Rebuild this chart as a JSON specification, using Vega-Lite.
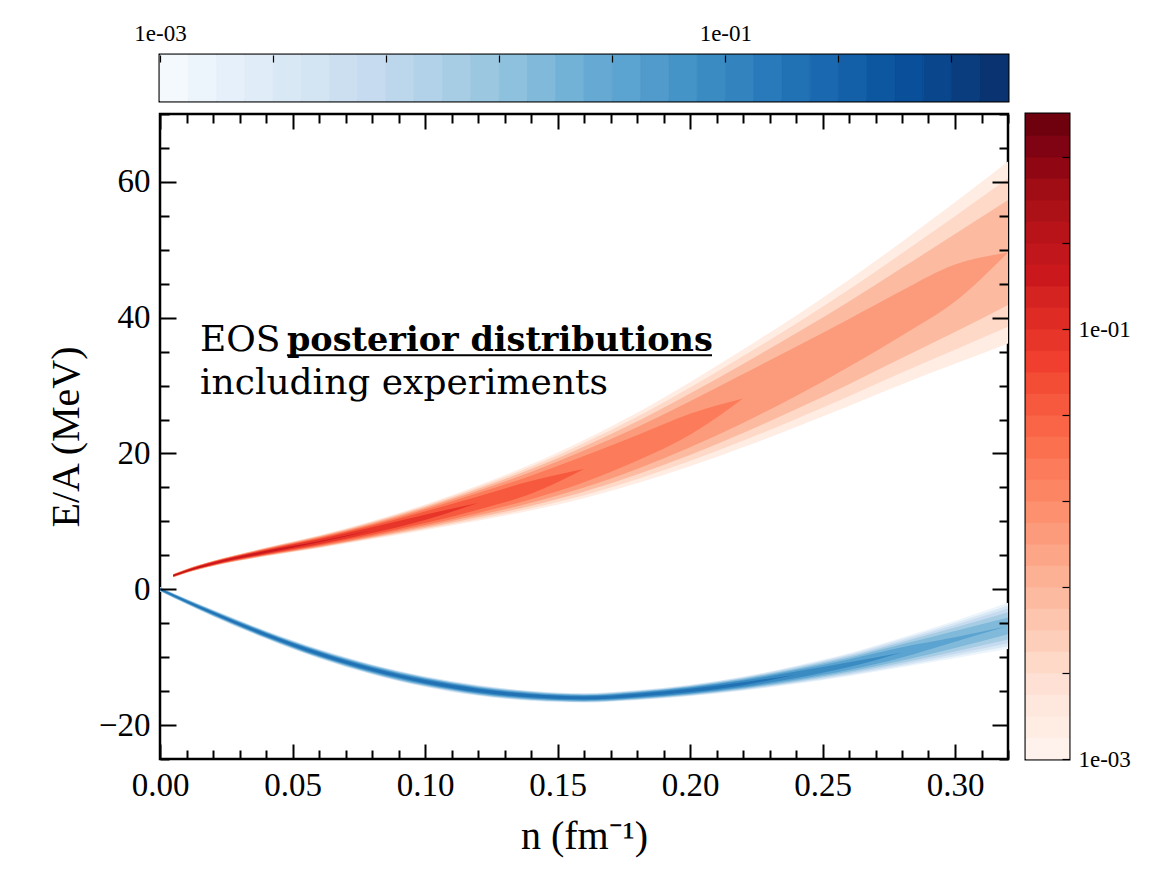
{
"$schema": "https://vega.github.io/schema/vega-lite/v6.json",
"padding": {"left": 45, "top": 20, "right": 5, "bottom": 5},
"background": "white",
"config": {"view": {"stroke": null}},
"columns": 2,
"spacing": {"row": 13, "column": 18},
"bounds": "flush",
"resolve": {"scale": {"color": "independent", "stroke": "independent"}},
"datasets": {
"cb": [{"e":-3.0,"e2":-2.9,"m":-2.95},{"e":-2.9,"e2":-2.8,"m":-2.85},{"e":-2.8,"e2":-2.7,"m":-2.75},{"e":-2.7,"e2":-2.6,"m":-2.65},{"e":-2.6,"e2":-2.5,"m":-2.55},{"e":-2.5,"e2":-2.4,"m":-2.45},{"e":-2.4,"e2":-2.3,"m":-2.35},{"e":-2.3,"e2":-2.2,"m":-2.25},{"e":-2.2,"e2":-2.1,"m":-2.15},{"e":-2.1,"e2":-2.0,"m":-2.05},{"e":-2.0,"e2":-1.9,"m":-1.95},{"e":-1.9,"e2":-1.8,"m":-1.85},{"e":-1.8,"e2":-1.7,"m":-1.75},{"e":-1.7,"e2":-1.6,"m":-1.65},{"e":-1.6,"e2":-1.5,"m":-1.55},{"e":-1.5,"e2":-1.4,"m":-1.45},{"e":-1.4,"e2":-1.3,"m":-1.35},{"e":-1.3,"e2":-1.2,"m":-1.25},{"e":-1.2,"e2":-1.1,"m":-1.15},{"e":-1.1,"e2":-1.0,"m":-1.05},{"e":-1.0,"e2":-0.9,"m":-0.95},{"e":-0.9,"e2":-0.8,"m":-0.85},{"e":-0.8,"e2":-0.7,"m":-0.75},{"e":-0.7,"e2":-0.6,"m":-0.65},{"e":-0.6,"e2":-0.5,"m":-0.55},{"e":-0.5,"e2":-0.4,"m":-0.45},{"e":-0.4,"e2":-0.3,"m":-0.35},{"e":-0.3,"e2":-0.2,"m":-0.25},{"e":-0.2,"e2":-0.1,"m":-0.15},{"e":-0.1,"e2":0.0,"m":-0.05}],
"blue": [
{"lev":-2.85,"n":0,"lo":-0.3,"hi":0.3},{"lev":-2.85,"n":0.01,"lo":-2.2,"hi":-1.4},{"lev":-2.85,"n":0.02,"lo":-4.0,"hi":-3.0},{"lev":-2.85,"n":0.04,"lo":-7.3,"hi":-6.1},{"lev":-2.85,"n":0.06,"lo":-10.2,"hi":-8.8},{"lev":-2.85,"n":0.08,"lo":-12.55,"hi":-11.05},{"lev":-2.85,"n":0.1,"lo":-14.4,"hi":-12.8},{"lev":-2.85,"n":0.12,"lo":-15.7,"hi":-14.1},{"lev":-2.85,"n":0.14,"lo":-16.45,"hi":-14.95},{"lev":-2.85,"n":0.16,"lo":-16.7,"hi":-15.3},{"lev":-2.85,"n":0.18,"lo":-16.35,"hi":-14.85},{"lev":-2.85,"n":0.2,"lo":-15.75,"hi":-14.05},{"lev":-2.85,"n":0.22,"lo":-14.95,"hi":-12.85},{"lev":-2.85,"n":0.24,"lo":-13.95,"hi":-11.25},{"lev":-2.85,"n":0.26,"lo":-12.8,"hi":-9.4},{"lev":-2.85,"n":0.28,"lo":-11.5,"hi":-7.1},{"lev":-2.85,"n":0.3,"lo":-10.15,"hi":-4.65},{"lev":-2.85,"n":0.32,"lo":-8.8,"hi":-2.0},
{"lev":-2.55,"n":0,"lo":-0.28,"hi":0.28},{"lev":-2.55,"n":0.01,"lo":-2.17,"hi":-1.43},{"lev":-2.55,"n":0.02,"lo":-3.97,"hi":-3.03},{"lev":-2.55,"n":0.04,"lo":-7.26,"hi":-6.14},{"lev":-2.55,"n":0.06,"lo":-10.15,"hi":-8.85},{"lev":-2.55,"n":0.08,"lo":-12.5,"hi":-11.1},{"lev":-2.55,"n":0.1,"lo":-14.35,"hi":-12.85},{"lev":-2.55,"n":0.12,"lo":-15.65,"hi":-14.15},{"lev":-2.55,"n":0.14,"lo":-16.4,"hi":-15.0},{"lev":-2.55,"n":0.16,"lo":-16.65,"hi":-15.35},{"lev":-2.55,"n":0.18,"lo":-16.3,"hi":-14.9},{"lev":-2.55,"n":0.2,"lo":-15.69,"hi":-14.11},{"lev":-2.55,"n":0.22,"lo":-14.88,"hi":-12.92},{"lev":-2.55,"n":0.24,"lo":-13.85,"hi":-11.35},{"lev":-2.55,"n":0.26,"lo":-12.66,"hi":-9.54},{"lev":-2.55,"n":0.28,"lo":-11.3,"hi":-7.3},{"lev":-2.55,"n":0.3,"lo":-9.86,"hi":-4.94},{"lev":-2.55,"n":0.32,"lo":-8.41,"hi":-2.39},
{"lev":-2.25,"n":0,"lo":-0.26,"hi":0.26},{"lev":-2.25,"n":0.01,"lo":-2.14,"hi":-1.46},{"lev":-2.25,"n":0.02,"lo":-3.93,"hi":-3.07},{"lev":-2.25,"n":0.04,"lo":-7.22,"hi":-6.18},{"lev":-2.25,"n":0.06,"lo":-10.1,"hi":-8.9},{"lev":-2.25,"n":0.08,"lo":-12.45,"hi":-11.15},{"lev":-2.25,"n":0.1,"lo":-14.29,"hi":-12.91},{"lev":-2.25,"n":0.12,"lo":-15.59,"hi":-14.21},{"lev":-2.25,"n":0.14,"lo":-16.35,"hi":-15.05},{"lev":-2.25,"n":0.16,"lo":-16.6,"hi":-15.4},{"lev":-2.25,"n":0.18,"lo":-16.25,"hi":-14.95},{"lev":-2.25,"n":0.2,"lo":-15.63,"hi":-14.17},{"lev":-2.25,"n":0.22,"lo":-14.8,"hi":-13.0},{"lev":-2.25,"n":0.24,"lo":-13.74,"hi":-11.46},{"lev":-2.25,"n":0.26,"lo":-12.5,"hi":-9.7},{"lev":-2.25,"n":0.28,"lo":-11.07,"hi":-7.53},{"lev":-2.25,"n":0.3,"lo":-9.54,"hi":-5.26},{"lev":-2.25,"n":0.32,"lo":-7.96,"hi":-2.84},
{"lev":-1.95,"n":0,"lo":-0.23,"hi":0.23},{"lev":-1.95,"n":0.01,"lo":-2.11,"hi":-1.49},{"lev":-1.95,"n":0.02,"lo":-3.89,"hi":-3.11},{"lev":-1.95,"n":0.04,"lo":-7.17,"hi":-6.23},{"lev":-1.95,"n":0.06,"lo":-10.05,"hi":-8.95},{"lev":-1.95,"n":0.08,"lo":-12.39,"hi":-11.21},{"lev":-1.95,"n":0.1,"lo":-14.22,"hi":-12.98},{"lev":-1.95,"n":0.12,"lo":-15.52,"hi":-14.28},{"lev":-1.95,"n":0.14,"lo":-16.29,"hi":-15.11},{"lev":-1.95,"n":0.16,"lo":-16.55,"hi":-15.45},{"lev":-1.95,"n":0.18,"lo":-16.19,"hi":-15.01},{"lev":-1.95,"n":0.2,"lo":-15.56,"hi":-14.24},{"lev":-1.95,"n":0.22,"lo":-14.71,"hi":-13.09},{"lev":-1.95,"n":0.24,"lo":-13.61,"hi":-11.59},{"lev":-1.95,"n":0.26,"lo":-12.33,"hi":-9.87},{"lev":-1.95,"n":0.28,"lo":-10.81,"hi":-7.79},{"lev":-1.95,"n":0.3,"lo":-9.16,"hi":-5.64},{"lev":-1.95,"n":0.32,"lo":-7.41,"hi":-3.39},
{"lev":-1.65,"n":0,"lo":-0.21,"hi":0.21},{"lev":-1.65,"n":0.01,"lo":-2.08,"hi":-1.52},{"lev":-1.65,"n":0.02,"lo":-3.85,"hi":-3.15},{"lev":-1.65,"n":0.04,"lo":-7.12,"hi":-6.28},{"lev":-1.65,"n":0.06,"lo":-9.98,"hi":-9.02},{"lev":-1.65,"n":0.08,"lo":-12.32,"hi":-11.28},{"lev":-1.65,"n":0.1,"lo":-14.15,"hi":-13.05},{"lev":-1.65,"n":0.12,"lo":-15.45,"hi":-14.35},{"lev":-1.65,"n":0.14,"lo":-16.22,"hi":-15.18},{"lev":-1.65,"n":0.16,"lo":-16.48,"hi":-15.52},{"lev":-1.65,"n":0.18,"lo":-16.12,"hi":-15.08},{"lev":-1.65,"n":0.2,"lo":-15.49,"hi":-14.31},{"lev":-1.65,"n":0.22,"lo":-14.61,"hi":-13.19},{"lev":-1.65,"n":0.24,"lo":-13.47,"hi":-11.73},{"lev":-1.65,"n":0.26,"lo":-12.12,"hi":-10.08},{"lev":-1.65,"n":0.28,"lo":-10.49,"hi":-8.11},{"lev":-1.65,"n":0.3,"lo":-8.66,"hi":-6.14},{"lev":-1.65,"n":0.32,"lo":-6.63,"hi":-4.17},
{"lev":-1.35,"n":0,"lo":-0.18,"hi":0.18},{"lev":-1.35,"n":0.01,"lo":-2.04,"hi":-1.56},{"lev":-1.35,"n":0.02,"lo":-3.8,"hi":-3.2},{"lev":-1.35,"n":0.04,"lo":-7.05,"hi":-6.35},{"lev":-1.35,"n":0.06,"lo":-9.91,"hi":-9.09},{"lev":-1.35,"n":0.08,"lo":-12.24,"hi":-11.36},{"lev":-1.35,"n":0.1,"lo":-14.07,"hi":-13.13},{"lev":-1.35,"n":0.12,"lo":-15.37,"hi":-14.43},{"lev":-1.35,"n":0.14,"lo":-16.14,"hi":-15.26},{"lev":-1.35,"n":0.16,"lo":-16.41,"hi":-15.59},{"lev":-1.35,"n":0.18,"lo":-16.04,"hi":-15.16},{"lev":-1.35,"n":0.2,"lo":-15.4,"hi":-14.4},{"lev":-1.35,"n":0.22,"lo":-14.49,"hi":-13.31},{"lev":-1.35,"n":0.24,"lo":-13.3,"hi":-11.9},{"lev":-1.35,"n":0.26,"lo":-11.87,"hi":-10.33},{"lev":-1.35,"n":0.28,"lo":-10.05,"hi":-8.55},{"lev":-1.35,"n":0.3,"lo":-7.72,"hi":-7.08},{"lev":-1.35,"n":0.32,"lo":-5.4,"hi":-5.4},
{"lev":-1.05,"n":0,"lo":-0.14,"hi":0.14},{"lev":-1.05,"n":0.01,"lo":-1.99,"hi":-1.61},{"lev":-1.05,"n":0.02,"lo":-3.73,"hi":-3.27},{"lev":-1.05,"n":0.04,"lo":-6.98,"hi":-6.42},{"lev":-1.05,"n":0.06,"lo":-9.83,"hi":-9.17},{"lev":-1.05,"n":0.08,"lo":-12.15,"hi":-11.45},{"lev":-1.05,"n":0.1,"lo":-13.97,"hi":-13.23},{"lev":-1.05,"n":0.12,"lo":-15.27,"hi":-14.53},{"lev":-1.05,"n":0.14,"lo":-16.05,"hi":-15.35},{"lev":-1.05,"n":0.16,"lo":-16.33,"hi":-15.67},{"lev":-1.05,"n":0.18,"lo":-15.95,"hi":-15.25},{"lev":-1.05,"n":0.2,"lo":-15.3,"hi":-14.5},{"lev":-1.05,"n":0.22,"lo":-14.35,"hi":-13.45},{"lev":-1.05,"n":0.24,"lo":-13.07,"hi":-12.13},{"lev":-1.05,"n":0.26,"lo":-11.45,"hi":-10.75},{"lev":-1.05,"n":0.28,"lo":-9.3,"hi":-9.3},
{"lev":-0.75,"n":0,"lo":-0.09,"hi":0.09},{"lev":-0.75,"n":0.01,"lo":-1.92,"hi":-1.68},{"lev":-0.75,"n":0.02,"lo":-3.65,"hi":-3.35},{"lev":-0.75,"n":0.04,"lo":-6.88,"hi":-6.52},{"lev":-0.75,"n":0.06,"lo":-9.71,"hi":-9.29},{"lev":-0.75,"n":0.08,"lo":-12.02,"hi":-11.58},{"lev":-0.75,"n":0.1,"lo":-13.84,"hi":-13.36},{"lev":-0.75,"n":0.12,"lo":-15.14,"hi":-14.66},{"lev":-0.75,"n":0.14,"lo":-15.92,"hi":-15.48},{"lev":-0.75,"n":0.16,"lo":-16.21,"hi":-15.79},{"lev":-0.75,"n":0.18,"lo":-15.82,"hi":-15.38},{"lev":-0.75,"n":0.2,"lo":-15.15,"hi":-14.65},{"lev":-0.75,"n":0.22,"lo":-14.12,"hi":-13.68},{"lev":-0.75,"n":0.24,"lo":-12.6,"hi":-12.6}
],
"red": [
{"lev":-2.85,"n":0.005,"lo":1.75,"hi":2.25},{"lev":-2.85,"n":0.01,"lo":2.4,"hi":3.0},{"lev":-2.85,"n":0.02,"lo":3.4,"hi":4.2},{"lev":-2.85,"n":0.04,"lo":4.85,"hi":6.15},{"lev":-2.85,"n":0.06,"lo":6.05,"hi":7.95},{"lev":-2.85,"n":0.08,"lo":7.35,"hi":10.05},{"lev":-2.85,"n":0.1,"lo":8.7,"hi":12.5},{"lev":-2.85,"n":0.12,"lo":10.1,"hi":15.3},{"lev":-2.85,"n":0.14,"lo":11.6,"hi":18.4},{"lev":-2.85,"n":0.16,"lo":13.4,"hi":22.0},{"lev":-2.85,"n":0.18,"lo":15.6,"hi":26.0},{"lev":-2.85,"n":0.2,"lo":18.1,"hi":30.5},{"lev":-2.85,"n":0.22,"lo":20.9,"hi":35.3},{"lev":-2.85,"n":0.24,"lo":23.9,"hi":40.3},{"lev":-2.85,"n":0.26,"lo":27.0,"hi":45.6},{"lev":-2.85,"n":0.28,"lo":30.2,"hi":51.2},{"lev":-2.85,"n":0.3,"lo":33.2,"hi":57.0},{"lev":-2.85,"n":0.32,"lo":36.2,"hi":63.0},
{"lev":-2.55,"n":0.005,"lo":1.77,"hi":2.23},{"lev":-2.55,"n":0.01,"lo":2.42,"hi":2.98},{"lev":-2.55,"n":0.02,"lo":3.43,"hi":4.17},{"lev":-2.55,"n":0.04,"lo":4.89,"hi":6.11},{"lev":-2.55,"n":0.06,"lo":6.12,"hi":7.88},{"lev":-2.55,"n":0.08,"lo":7.46,"hi":9.94},{"lev":-2.55,"n":0.1,"lo":8.86,"hi":12.34},{"lev":-2.55,"n":0.12,"lo":10.33,"hi":15.07},{"lev":-2.55,"n":0.14,"lo":11.93,"hi":18.07},{"lev":-2.55,"n":0.16,"lo":13.85,"hi":21.55},{"lev":-2.55,"n":0.18,"lo":16.2,"hi":25.4},{"lev":-2.55,"n":0.2,"lo":18.88,"hi":29.72},{"lev":-2.55,"n":0.22,"lo":21.86,"hi":34.34},{"lev":-2.55,"n":0.24,"lo":25.08,"hi":39.12},{"lev":-2.55,"n":0.26,"lo":28.44,"hi":44.16},{"lev":-2.55,"n":0.28,"lo":31.91,"hi":49.49},{"lev":-2.55,"n":0.3,"lo":35.26,"hi":54.94},{"lev":-2.55,"n":0.32,"lo":38.66,"hi":60.54},
{"lev":-2.25,"n":0.005,"lo":1.78,"hi":2.22},{"lev":-2.25,"n":0.01,"lo":2.44,"hi":2.96},{"lev":-2.25,"n":0.02,"lo":3.45,"hi":4.15},{"lev":-2.25,"n":0.04,"lo":4.94,"hi":6.06},{"lev":-2.25,"n":0.06,"lo":6.2,"hi":7.8},{"lev":-2.25,"n":0.08,"lo":7.57,"hi":9.83},{"lev":-2.25,"n":0.1,"lo":9.03,"hi":12.17},{"lev":-2.25,"n":0.12,"lo":10.59,"hi":14.81},{"lev":-2.25,"n":0.14,"lo":12.3,"hi":17.7},{"lev":-2.25,"n":0.16,"lo":14.37,"hi":21.03},{"lev":-2.25,"n":0.18,"lo":16.89,"hi":24.71},{"lev":-2.25,"n":0.2,"lo":19.78,"hi":28.82},{"lev":-2.25,"n":0.22,"lo":23.01,"hi":33.19},{"lev":-2.25,"n":0.24,"lo":26.51,"hi":37.69},{"lev":-2.25,"n":0.26,"lo":30.21,"hi":42.39},{"lev":-2.25,"n":0.28,"lo":34.06,"hi":47.34},{"lev":-2.25,"n":0.3,"lo":37.88,"hi":52.32},{"lev":-2.25,"n":0.32,"lo":41.87,"hi":57.33},
{"lev":-1.95,"n":0.005,"lo":1.8,"hi":2.2},{"lev":-1.95,"n":0.01,"lo":2.46,"hi":2.94},{"lev":-1.95,"n":0.02,"lo":3.48,"hi":4.12},{"lev":-1.95,"n":0.04,"lo":5.0,"hi":6.0},{"lev":-1.95,"n":0.06,"lo":6.28,"hi":7.72},{"lev":-1.95,"n":0.08,"lo":7.7,"hi":9.7},{"lev":-1.95,"n":0.1,"lo":9.23,"hi":11.97},{"lev":-1.95,"n":0.12,"lo":10.89,"hi":14.51},{"lev":-1.95,"n":0.14,"lo":12.73,"hi":17.27},{"lev":-1.95,"n":0.16,"lo":14.98,"hi":20.42},{"lev":-1.95,"n":0.18,"lo":17.73,"hi":23.87},{"lev":-1.95,"n":0.2,"lo":20.92,"hi":27.68},{"lev":-1.95,"n":0.22,"lo":24.5,"hi":31.7},{"lev":-1.95,"n":0.24,"lo":28.47,"hi":35.73},{"lev":-1.95,"n":0.26,"lo":32.78,"hi":39.82},{"lev":-1.95,"n":0.28,"lo":37.38,"hi":44.02},{"lev":-1.95,"n":0.3,"lo":42.37,"hi":47.83},{"lev":-1.95,"n":0.32,"lo":49.6,"hi":49.6},
{"lev":-1.65,"n":0.005,"lo":1.82,"hi":2.18},{"lev":-1.65,"n":0.01,"lo":2.49,"hi":2.91},{"lev":-1.65,"n":0.02,"lo":3.52,"hi":4.08},{"lev":-1.65,"n":0.04,"lo":5.06,"hi":5.94},{"lev":-1.65,"n":0.06,"lo":6.37,"hi":7.63},{"lev":-1.65,"n":0.08,"lo":7.85,"hi":9.55},{"lev":-1.65,"n":0.1,"lo":9.46,"hi":11.74},{"lev":-1.65,"n":0.12,"lo":11.24,"hi":14.16},{"lev":-1.65,"n":0.14,"lo":13.27,"hi":16.73},{"lev":-1.65,"n":0.16,"lo":15.78,"hi":19.62},{"lev":-1.65,"n":0.18,"lo":18.92,"hi":22.68},{"lev":-1.65,"n":0.2,"lo":22.75,"hi":25.85},{"lev":-1.65,"n":0.22,"lo":28.1,"hi":28.1},
{"lev":-1.35,"n":0.005,"lo":1.84,"hi":2.16},{"lev":-1.35,"n":0.01,"lo":2.51,"hi":2.89},{"lev":-1.35,"n":0.02,"lo":3.56,"hi":4.04},{"lev":-1.35,"n":0.04,"lo":5.12,"hi":5.88},{"lev":-1.35,"n":0.06,"lo":6.49,"hi":7.51},{"lev":-1.35,"n":0.08,"lo":8.02,"hi":9.38},{"lev":-1.35,"n":0.1,"lo":9.75,"hi":11.45},{"lev":-1.35,"n":0.12,"lo":11.72,"hi":13.68},{"lev":-1.35,"n":0.14,"lo":14.07,"hi":15.93},{"lev":-1.35,"n":0.16,"lo":17.7,"hi":17.7},
{"lev":-1.05,"n":0.005,"lo":1.87,"hi":2.13},{"lev":-1.05,"n":0.01,"lo":2.55,"hi":2.85},{"lev":-1.05,"n":0.02,"lo":3.6,"hi":4.0},{"lev":-1.05,"n":0.04,"lo":5.21,"hi":5.79},{"lev":-1.05,"n":0.06,"lo":6.63,"hi":7.37},{"lev":-1.05,"n":0.08,"lo":8.27,"hi":9.13},{"lev":-1.05,"n":0.1,"lo":10.21,"hi":10.99},{"lev":-1.05,"n":0.12,"lo":12.7,"hi":12.7},
{"lev":-0.75,"n":0.005,"lo":1.9,"hi":2.1},{"lev":-0.75,"n":0.01,"lo":2.59,"hi":2.81},{"lev":-0.75,"n":0.02,"lo":3.66,"hi":3.94},{"lev":-0.75,"n":0.04,"lo":5.33,"hi":5.67},{"lev":-0.75,"n":0.06,"lo":6.91,"hi":7.09},{"lev":-0.75,"n":0.08,"lo":8.7,"hi":8.7},
{"lev":-0.45,"n":0.005,"lo":1.95,"hi":2.05},{"lev":-0.45,"n":0.01,"lo":2.66,"hi":2.74},{"lev":-0.45,"n":0.02,"lo":3.8,"hi":3.8}
]
},
"concat": [
{
"width": 848, "height": 46,
"view": {"stroke": "black", "strokeWidth": 3},
"data": {"name": "cb"},
"mark": {"type": "rect", "strokeWidth": 0.8},
"encoding": {
"x": {"field": "e", "type": "quantitative", "scale": {"domain": [-3, 0], "nice": false, "zero": false},
"axis": {"orient": "top", "values": [-3, -2.6, -2.2, -1.8, -1.4, -1, -0.6, -0.2], "domain": false, "grid": false, "zindex": 1, "tickSize": -7, "tickWidth": 1.2, "tickColor": "black", "labelExpr": "abs(datum.value + 3) < 0.001 ? '1e-03' : (abs(datum.value + 1) < 0.001 ? '1e-01' : '')", "labelFont": "Liberation Serif", "labelFontSize": 23, "labelColor": "black", "labelPadding": 17, "labelFlush": false, "labelOverlap": false, "title": null}},
"x2": {"field": "e2"},
"color": {"field": "m", "type": "quantitative", "scale": {"domain": [-3, -2.625, -2.25, -1.875, -1.5, -1.125, -0.75, -0.375, 0], "range": ["#f7fbff", "#deebf7", "#c6dbef", "#9ecae1", "#6baed6", "#4292c6", "#2171b5", "#08519c", "#08306b"]}, "legend": null},
"stroke": {"field": "m", "type": "quantitative", "scale": {"domain": [-3, -2.625, -2.25, -1.875, -1.5, -1.125, -0.75, -0.375, 0], "range": ["#f7fbff", "#deebf7", "#c6dbef", "#9ecae1", "#6baed6", "#4292c6", "#2171b5", "#08519c", "#08306b"]}, "legend": null}
}
},
{
"width": 43, "height": 46,
"data": {"values": [{"a": 1}]},
"mark": {"type": "point", "opacity": 0},
"encoding": {}
},
{
"width": 848, "height": 645,
"view": {"stroke": "black", "strokeWidth": 2.5},
"resolve": {"scale": {"color": "independent"}, "axis": {"x": "independent", "y": "independent"}},
"layer": [
{
"data": {"name": "blue"},
"mark": {"type": "area", "clip": true, "interpolate": "monotone"},
"encoding": {
"x": {"field": "n", "type": "quantitative", "scale": {"domain": [0, 0.32], "nice": false, "zero": false},
"axis": {"orient": "bottom", "values": [0,0.01,0.02,0.03,0.04,0.05,0.06,0.07,0.08,0.09,0.1,0.11,0.12,0.13,0.14,0.15,0.16,0.17,0.18,0.19,0.2,0.21,0.22,0.23,0.24,0.25,0.26,0.27,0.28,0.29,0.3,0.31,0.32], "domain": false, "grid": false, "zindex": 1, "tickColor": "black", "tickWidth": 2, "tickSize": {"condition": {"test": "round(datum.value*100) % 5 == 0", "value": -15}, "value": -9}, "labelExpr": "round(datum.value*100) % 5 == 0 ? format(datum.value, '.2f') : ''", "labelFont": "Liberation Serif", "labelFontSize": 33, "labelColor": "black", "labelPadding": 25, "labelFlush": false, "labelOverlap": false, "title": "n (fm⁻¹)", "titleFont": "Liberation Serif", "titleFontSize": 40, "titleFontWeight": "normal", "titleColor": "black", "titlePadding": 8}},
"y": {"field": "lo", "type": "quantitative", "scale": {"domain": [-25, 70], "nice": false, "zero": false},
"axis": {"orient": "left", "values": [-25,-20,-15,-10,-5,0,5,10,15,20,25,30,35,40,45,50,55,60,65,70], "domain": false, "grid": false, "zindex": 1, "tickColor": "black", "tickWidth": 2, "tickSize": {"condition": {"test": "datum.value % 20 == 0", "value": -16}, "value": -9}, "labelExpr": "datum.value % 20 == 0 ? format(datum.value, 'd') : ''", "labelFont": "Liberation Serif", "labelFontSize": 33, "labelColor": "black", "labelPadding": 26, "labelOverlap": false, "labelFlush": false, "title": "E/A (MeV)", "titleFont": "Liberation Serif", "titleFontSize": 40, "titleFontWeight": "normal", "titleColor": "black", "titlePadding": 12}},
"y2": {"field": "hi"},
"color": {"field": "lev", "type": "quantitative", "scale": {"domain": [-3, -2.625, -2.25, -1.875, -1.5, -1.125, -0.75, -0.375, 0], "range": ["#f7fbff", "#deebf7", "#c6dbef", "#9ecae1", "#6baed6", "#4292c6", "#2171b5", "#08519c", "#08306b"]}, "legend": null},
"detail": {"field": "lev", "type": "quantitative"}
}
},
{
"data": {"name": "red"},
"mark": {"type": "area", "clip": true, "interpolate": "monotone"},
"encoding": {
"x": {"field": "n", "type": "quantitative",
"axis": {"orient": "top", "values": [0,0.01,0.02,0.03,0.04,0.05,0.06,0.07,0.08,0.09,0.1,0.11,0.12,0.13,0.14,0.15,0.16,0.17,0.18,0.19,0.2,0.21,0.22,0.23,0.24,0.25,0.26,0.27,0.28,0.29,0.3,0.31,0.32], "domain": false, "grid": false, "zindex": 1, "labels": false, "tickColor": "black", "tickWidth": 2, "tickSize": {"condition": {"test": "round(datum.value*100) % 5 == 0", "value": -15}, "value": -9}, "title": null}},
"y": {"field": "lo", "type": "quantitative",
"axis": {"orient": "right", "values": [-25,-20,-15,-10,-5,0,5,10,15,20,25,30,35,40,45,50,55,60,65,70], "domain": false, "grid": false, "zindex": 1, "labels": false, "tickColor": "black", "tickWidth": 2, "tickSize": {"condition": {"test": "datum.value % 20 == 0", "value": -16}, "value": -9}, "title": null}},
"y2": {"field": "hi"},
"color": {"field": "lev", "type": "quantitative", "scale": {"domain": [-3, -2.625, -2.25, -1.875, -1.5, -1.125, -0.75, -0.375, 0], "range": ["#fff5f0", "#fee0d2", "#fcbba1", "#fc9272", "#fb6a4a", "#ef3b2c", "#cb181d", "#a50f15", "#67000d"]}, "legend": null},
"detail": {"field": "lev", "type": "quantitative"}
}
},
{
"data": {"values": [{}]},
"mark": {"type": "text", "align": "left", "baseline": "alphabetic", "font": "DejaVu Serif", "fontSize": 36, "color": "black"},
"encoding": {"x": {"datum": 0.0151, "type": "quantitative", "axis": null}, "y": {"datum": 35.1, "type": "quantitative", "axis": null}, "text": {"value": "EOS"}}
},
{
"data": {"values": [{}]},
"mark": {"type": "text", "align": "left", "baseline": "alphabetic", "font": "DejaVu Serif", "fontSize": 33.5, "fontWeight": "bold", "color": "black"},
"encoding": {"x": {"datum": 0.0479, "type": "quantitative", "axis": null}, "y": {"datum": 35.1, "type": "quantitative", "axis": null}, "text": {"value": "posterior distributions"}}
},
{
"data": {"values": [{}]},
"mark": {"type": "text", "align": "left", "baseline": "alphabetic", "font": "DejaVu Serif", "fontSize": 36, "color": "black"},
"encoding": {"x": {"datum": 0.0151, "type": "quantitative", "axis": null}, "y": {"datum": 28.8, "type": "quantitative", "axis": null}, "text": {"value": "including experiments"}}
},
{
"data": {"values": [{}]},
"mark": {"type": "rule", "strokeWidth": 2, "color": "black"},
"encoding": {"x": {"datum": 0.0479, "type": "quantitative", "axis": null}, "x2": {"datum": 0.2083}, "y": {"datum": 34.45, "type": "quantitative", "axis": null}}
}
]
},
{
"width": 43, "height": 645,
"view": {"stroke": "black", "strokeWidth": 3},
"data": {"name": "cb"},
"mark": {"type": "rect", "strokeWidth": 0.8},
"encoding": {
"y": {"field": "e", "type": "quantitative", "scale": {"domain": [-3, 0], "nice": false, "zero": false},
"axis": {"orient": "right", "values": [-3, -2.6, -2.2, -1.8, -1.4, -1, -0.6, -0.2], "domain": false, "grid": false, "zindex": 1, "tickSize": -7, "tickWidth": 1.2, "tickColor": "black", "labelExpr": "abs(datum.value + 3) < 0.001 ? '1e-03' : (abs(datum.value + 1) < 0.001 ? '1e-01' : '')", "labelFont": "Liberation Serif", "labelFontSize": 23, "labelColor": "black", "labelPadding": 16, "labelFlush": false, "labelOverlap": false, "title": null}},
"y2": {"field": "e2"},
"color": {"field": "m", "type": "quantitative", "scale": {"domain": [-3, -2.625, -2.25, -1.875, -1.5, -1.125, -0.75, -0.375, 0], "range": ["#fff5f0", "#fee0d2", "#fcbba1", "#fc9272", "#fb6a4a", "#ef3b2c", "#cb181d", "#a50f15", "#67000d"]}, "legend": null},
"stroke": {"field": "m", "type": "quantitative", "scale": {"domain": [-3, -2.625, -2.25, -1.875, -1.5, -1.125, -0.75, -0.375, 0], "range": ["#fff5f0", "#fee0d2", "#fcbba1", "#fc9272", "#fb6a4a", "#ef3b2c", "#cb181d", "#a50f15", "#67000d"]}, "legend": null}
}
}
]
}
